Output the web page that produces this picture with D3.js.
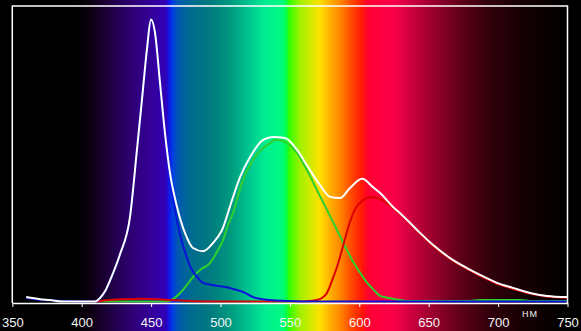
<!DOCTYPE html>
<html>
<head>
<meta charset="utf-8">
<script src="https://cdn.jsdelivr.net/npm/d3@7"></script>
<style>
  html, body { margin: 0; padding: 0; background: #000; }
  svg { display: block; }
</style>
</head>
<body>
<svg></svg>
<script>
'use strict';

var SVG_SIZE = { width: 581, height: 331 };
var PLOT = { left: 12.3, right: 567.5, top: 6, bottom: 303 };

// wavelength ticks (nm)
var tickValues = [350, 400, 450, 500, 550, 600, 650, 700, 750];
var unitLabel = 'НМ';

// total (white) spectrum
var whiteNm = [360, 370, 377, 386.5, 399, 409.6, 413.2, 417, 421, 427.6, 434.8, 439.8, 443.4, 447, 449.9, 452.8, 456.4, 460, 463.6, 468.7, 474.4, 480.2, 487.4, 494.6, 501.1, 508.3, 514.1, 521.3, 530.7, 537.9, 546.5, 555.2, 563.1, 571.7, 578.9, 586.1, 593.3, 602, 609.9, 615, 624.3, 629.4, 641.6, 653.2, 665.4, 677.6, 687, 699.2, 710.7, 723, 735.2, 749.6];
var whiteVal = [1.5, 0.8, 0.5, 0, 0, 0, 1.2, 3.6, 7.8, 16, 28.6, 51.3, 68.2, 85.3, 95.4, 91, 74.1, 57, 43.5, 32, 23.2, 18.1, 17, 19.8, 24.2, 34.3, 42.1, 48.9, 54.7, 55.7, 55.3, 51.3, 45.5, 39.4, 35.4, 35, 38.4, 41.5, 38.7, 36.7, 32, 29.9, 24.2, 19.1, 14.7, 11.3, 9, 6.3, 4.6, 2.9, 1.9, 1.5];

// blue channel
var blueNm = [360, 370, 377, 386.5, 399, 409.6, 413.2, 417, 421, 427.6, 434.8, 439.8, 443.4, 447, 449.9, 452.8, 456.4, 460, 463.6, 467.2, 470.9, 474.4, 478, 483.1, 487.4, 493.9, 499.6, 506.8, 511.9, 517.7, 523.5, 529.9, 535.7, 548, 560, 600, 650, 700, 749.6];
var blueVal = [1.2, 0.6, 0.4, 0.2, 0, 0, 1, 3.4, 7.6, 15.8, 28.4, 51.1, 68, 85.1, 95.2, 90.8, 73.9, 56.4, 42.1, 31, 22.5, 16.8, 12, 8.3, 6.3, 5.6, 5.2, 4.6, 3.9, 2.9, 1.5, 0.8, 0.5, 0.2, 0, 0, 0, 0, 0];

// green channel
var greenNm = [410, 440, 456.4, 461.4, 465.7, 470.9, 475.9, 480.2, 485.2, 492.4, 497.5, 501.8, 505.4, 509, 512.6, 516.2, 523.4, 528.4, 533.5, 540.7, 547.9, 555.1, 562.3, 569.5, 576.7, 583.9, 591.1, 595.4, 600.5, 605.5, 609.9, 615, 620, 625.7, 634.4, 658, 680, 687, 701, 716, 723, 749.6];
var greenVal = [0.1, 0, 0, 0, 0.8, 2.9, 5.6, 8.3, 10.7, 13, 16.8, 20.8, 25.9, 29.9, 35.7, 41.1, 47.9, 50.9, 52.9, 54.7, 53.6, 50.3, 44.5, 37.7, 31, 24.2, 17.4, 13.5, 9.8, 6.4, 4.2, 1.9, 1.3, 0.8, 0.2, 0.2, 0.2, 0.5, 0.5, 0.5, 0.2, 0.2];

// red channel
var redNm = [410, 420, 430, 445, 460, 470, 480, 500, 540, 560, 569.5, 573.1, 576.7, 580.3, 584.5, 589, 593.3, 597.2, 600.8, 604.5, 609.9, 615, 620, 629.4, 641.6, 653.2, 665.4, 677.6, 687, 699.2, 710.7, 723, 735.2, 749.6];
var redVal = [0, 0.5, 0.8, 0.9, 0.6, 0.4, 0.1, 0, 0, 0, 0.5, 1.2, 2.9, 7, 12.5, 20, 27, 31.5, 33.5, 34.8, 35.4, 34.7, 33.3, 29.5, 23.9, 18.8, 14.4, 11, 8.7, 6, 4.3, 2.7, 1.7, 1.3];

// visible spectrum backdrop, colour at wavelength
var spectrumNm = [395.2, 406, 420.4, 434.8, 452.8, 460.7, 462.9, 465.8, 469.4, 478, 492.4, 506.8, 521.3, 532.1, 544.3, 547.2, 549.4, 557.3, 564.5, 571.7, 578.9, 586.1, 593.3, 602, 606.3, 615, 625.8, 636.6, 651, 672.6, 694.2, 715.8, 737.4, 751.8];
var spectrumColor = ['#000000', '#0c0010', '#1e0040', '#2e0070', '#3400a0', '#3000b8', '#1018e8', '#0040e0', '#0058b0', '#006a90', '#007a80', '#00987f', '#00c890', '#00ec90', '#00fa80', '#00ff50', '#30ff00', '#a0f000', '#d0ea00', '#ffe000', '#ffb000', '#ff8800', '#ff5000', '#ff1808', '#ff0030', '#ff0040', '#f80048', '#d00040', '#a00030', '#600018', '#30000a', '#180004', '#080000', '#000000'];

var svg = d3.select('svg')
    .attr('width', SVG_SIZE.width).attr('height', SVG_SIZE.height);

var xScale = d3.scaleLinear()
    .domain([350, 750])
    .range([PLOT.left, PLOT.right]);

var yScale = d3.scaleLinear()
    .domain([0, 100])
    .range([PLOT.bottom - 1.5, PLOT.top]);

//spectrum gradient over the whole picture
var grad = svg.append('defs').append('linearGradient')
    .attr('id', 'spectrum')
    .attr('gradientUnits', 'userSpaceOnUse')
    .attr('x1', 0).attr('y1', 0)
    .attr('x2', SVG_SIZE.width).attr('y2', 0);

grad.selectAll('stop')
    .data(spectrumNm)
    .enter().append('stop')
    .attr('offset', function (d) { return xScale(d) / SVG_SIZE.width; })
    .attr('stop-color', function (d, i) { return spectrumColor[i]; });

svg.append('rect')
    .attr('width', SVG_SIZE.width).attr('height', SVG_SIZE.height)
    .attr('fill', 'url(#spectrum)');

// curves
var line = d3.line()
    .x(function (d) { return xScale(d[0]); })
    .y(function (d) { return yScale(d[1]); })
    .curve(d3.curveMonotoneX);

var series = [
    { nm: greenNm, val: greenVal, color: '#2ed02e' },
    { nm: redNm, val: redVal, color: '#dd0000' },
    { nm: blueNm, val: blueVal, color: '#0a14d8' },
    { nm: whiteNm, val: whiteVal, color: '#ffffff' }
];

series.forEach(function (s) {
    svg.append('path')
        .datum(d3.zip(s.nm, s.val))
        .attr('d', line)
        .attr('fill', 'none')
        .attr('stroke', s.color)
        .attr('stroke-width', 2)
        .attr('stroke-linejoin', 'round');
});

// frame
svg.append('path')
    .attr('d', 'M' + PLOT.left + ',' + PLOT.bottom + 'V' + PLOT.top + 'H' + PLOT.right + 'V' + PLOT.bottom)
    .attr('fill', 'none')
    .attr('stroke', '#fff')
    .attr('stroke-width', 1.5);

// x axis
var xAxis = d3.axisBottom(xScale)
    .tickValues(tickValues)
    .tickSize(4)
    .tickSizeOuter(0)
    .tickPadding(11)
    .tickFormat(d3.format('d'));

var gx = svg.append('g')
    .attr('transform', 'translate(0,' + PLOT.bottom + ')')
    .call(xAxis);

gx.select('.domain').attr('stroke', '#fff').attr('stroke-width', 1.5);
gx.selectAll('.tick line').attr('stroke', '#fff');
gx.selectAll('.tick text')
    .attr('fill', '#f4f4f4')
    .style('font-family', '"Liberation Sans", Arial, sans-serif')
    .style('font-size', '13px');

svg.append('text')
    .attr('x', 530).attr('y', 317)
    .attr('text-anchor', 'middle')
    .attr('fill', '#f4f4f4')
    .style('font-family', '"Liberation Sans", Arial, sans-serif')
    .style('font-size', '9px')
    .style('letter-spacing', '1px')
    .text(unitLabel);
</script>
</body>
</html>
